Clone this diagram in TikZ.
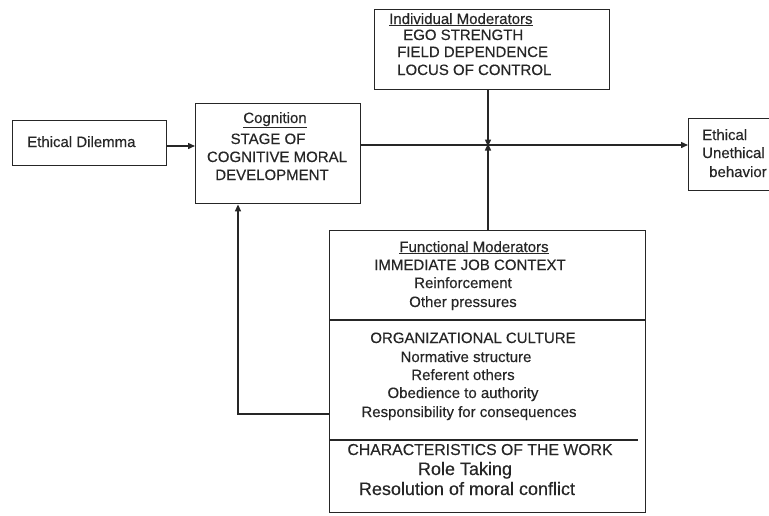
\documentclass[tikz,border=0pt]{standalone}
\usepackage{fontspec}
\setmainfont{Liberation Sans}[UprightFeatures={FakeBold=0.35}]
\usetikzlibrary{arrows.meta}
\definecolor{ink}{HTML}{262626}
\begin{document}
\begin{tikzpicture}[x=1pt,y=-1pt,
  line/.style={draw=ink, line width=1.4pt},
  box/.style={line, rectangle, inner sep=0pt, anchor=north west},
  txt/.style={font=\fontsize{15}{18}\selectfont, text=ink, inner sep=0pt, anchor=base},
  big/.style={txt, font=\fontsize{18}{20}\selectfont},
  arr/.style={line, -{Triangle[length=7pt,width=6pt]}},
]
\useasboundingbox (0,0) rectangle (769,515);

% boxes
\node[box, minimum width=154pt, minimum height=45pt] (dilemma) at (12,120) {};
\node[box, minimum width=165pt, minimum height=100pt] (cog) at (195,103) {};
\node[box, minimum width=235pt, minimum height=80pt] (indiv) at (374,9) {};
\node[box, minimum width=90pt, minimum height=72pt] (outcome) at (688,118) {};
\node[box, minimum width=316pt, minimum height=282pt] (func) at (329,230) {};

% section dividers of the functional moderators box
\coordinate (d1) at (329,320);
\coordinate (d2) at (329,440);
\draw[line] (d1) -- (func.east |- d1);
\draw[line] (d2) -- ([xshift=-8pt]func.east |- d2);

% texts
\node[txt, anchor=base west] (t-dil) at (27,147) {Ethical Dilemma};

\node[txt] (c0) at (275,123) {\underline{Cognition}};
\node[txt] (c1) at (268,144) {STAGE OF};
\node[txt] (c2) at (277,162) {COGNITIVE MORAL};
\node[txt] (c3) at (272,180) {DEVELOPMENT};

\node[txt, anchor=base west] (i0) at (389,24) {\underline{Individual Moderators}};
\node[txt, anchor=base west] (i1) at (403,40) {EGO STRENGTH};
\node[txt, anchor=base west] (i2) at (397,57) {FIELD DEPENDENCE};
\node[txt, anchor=base west] (i3) at (397,75) {LOCUS OF CONTROL};

\node[txt, anchor=base west] (o0) at (702,140) {Ethical};
\node[txt, anchor=base west] (o1) at (702,158) {Unethical};
\node[txt, anchor=base west] (o2) at (709,177) {behavior};

\node[txt] (f0) at (474,252) {\underline{Functional Moderators}};
\node[txt] (f1) at (470,270) {IMMEDIATE JOB CONTEXT};
\node[txt] (f2) at (463,288) {Reinforcement};
\node[txt] (f3) at (463,307) {Other pressures};

\node[txt] (g0) at (473,343) {ORGANIZATIONAL CULTURE};
\node[txt] (g1) at (466,362) {Normative structure};
\node[txt] (g2) at (463,380) {Referent others};
\node[txt] (g3) at (463,398) {Obedience to authority};
\node[txt] (g4) at (469,417) {Responsibility for consequences};

\node[txt, font=\fontsize{15.8}{18}\selectfont] (h0) at (480,455) {CHARACTERISTICS OF THE WORK};
\node[big] (h1) at (465,475) {Role Taking};
\node[big] (h2) at (467,495) {Resolution of moral conflict};

% connectors
\coordinate (main) at (0,145);
\coordinate (junc) at (488,145);
\draw[arr] (dilemma.east |- 0,146) -- (cog.west |- 0,146);
\draw[arr] (cog.east |- main) -- (outcome.west |- main);
\draw[arr] (indiv.south -| junc) -- ([yshift=-1.5pt]junc);
\draw[arr] (func.north -| junc) -- ([yshift=1.5pt]junc);
\coordinate (fb) at (238,414);
\draw[arr] (func.west |- fb) -- (fb) -- (fb |- cog.south);
\end{tikzpicture}
\end{document}
